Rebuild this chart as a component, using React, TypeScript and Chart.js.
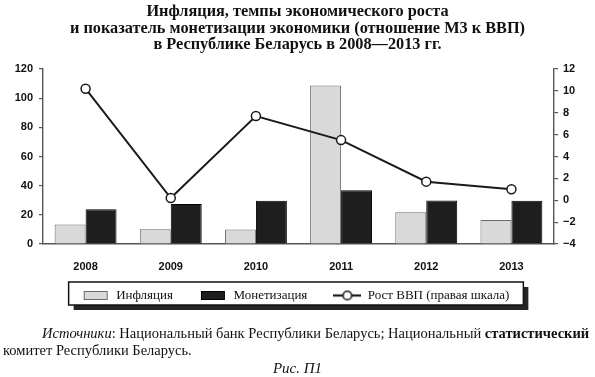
import React, { useEffect, useRef } from "react";
import { Chart, registerables } from "chart.js";

Chart.register(...registerables);

const years = ["2008", "2009", "2010", "2011", "2012", "2013"];
const inflation = [13.3, 10.1, 9.9, 108.7, 21.8, 16.5];
const monetization = [23.8, 27.4, 29.7, 36.8, 29.9, 29.7];
const gdpGrowth = [10.2, 0.2, 7.7, 5.5, 1.7, 1.0];
const leftTicks = [0, 20, 40, 60, 80, 100, 120];
const rightTicks = [-4, -2, 0, 2, 4, 6, 8, 10, 12];
const seriesNames = ["Инфляция", "Монетизация", "Рост ВВП (правая шкала)"];
const titleLines = [
  "Инфляция, темпы экономического роста",
  "и показатель монетизации экономики (отношение М3 к ВВП)",
  "в Республике Беларусь в 2008—2013 гг.",
];
const sourceLabel = "Источники";
const sourceLine1a = ": Национальный банк Республики Беларусь; Национальный ";
const sourceLine1b = "статистический";
const sourceLine2 = "комитет Республики Беларусь.";
const figureLabel = "Рис. П1";

const INFL_FILL = "#d9d9d9";
const INFL_BORDER = "#6a6a6a";
const MON_FILL = "#1e1e1e";
const LINE_COLOR = "#1a1a1a";
const AXIS_COLOR = "#555";
const TICK_FONT = "'Liberation Sans', Arial, sans-serif";
const SERIF = "'Liberation Serif', 'DejaVu Serif', serif";

function makeSwatch(fill: string, stroke: string, w: number, h: number) {
  const c = document.createElement("canvas");
  c.width = w + 2;
  c.height = h + 2;
  const ctx = c.getContext("2d")!;
  ctx.fillStyle = fill;
  ctx.fillRect(1, 1, w, h);
  ctx.strokeStyle = stroke;
  ctx.lineWidth = 1;
  ctx.strokeRect(1.5, 1.5, w - 1, h - 1);
  return c;
}

function makeLineIcon(w: number, h: number) {
  const c = document.createElement("canvas");
  c.width = w;
  c.height = h;
  const ctx = c.getContext("2d")!;
  ctx.strokeStyle = LINE_COLOR;
  ctx.lineWidth = 2.2;
  ctx.beginPath();
  ctx.moveTo(0, h / 2);
  ctx.lineTo(w, h / 2);
  ctx.stroke();
  ctx.beginPath();
  ctx.arc(w / 2, h / 2, 4.3, 0, Math.PI * 2);
  ctx.fillStyle = "#fff";
  ctx.fill();
  ctx.lineWidth = 1.6;
  ctx.stroke();
  return c;
}

const LEGEND_SHIFT_X = -2;
const LEGEND_SHIFT_Y = -11;

const legendBoxPlugin = {
  id: "legendBox",
  afterLayout(chart: any) {
    const lg = chart.legend;
    if (!lg) return;
    lg.left += LEGEND_SHIFT_X;
    lg.right += LEGEND_SHIFT_X;
    lg.top += LEGEND_SHIFT_Y;
    lg.bottom += LEGEND_SHIFT_Y;
  },
  beforeDraw(chart: any) {
    const lg = chart.legend;
    if (!lg || !lg.legendHitBoxes || !lg.legendHitBoxes.length) return;
    const hb = lg.legendHitBoxes;
    const left = Math.min(...hb.map((h: any) => h.left)) - 13;
    const right = Math.max(...hb.map((h: any) => h.left + h.width)) + 14;
    const cy = hb[0].top + hb[0].height / 2;
    const top = cy - 13.5;
    const bottom = cy + 9.5;
    const ctx = chart.ctx;
    ctx.save();
    ctx.fillStyle = "#262626";
    ctx.fillRect(left + 5, top + 5, right - left, bottom - top);
    ctx.fillStyle = "#fff";
    ctx.fillRect(left, top, right - left, bottom - top);
    ctx.strokeStyle = "#111";
    ctx.lineWidth = 1.5;
    ctx.strokeRect(left, top, right - left, bottom - top);
    ctx.restore();
  },
};

export default function App() {
  const canvasRef = useRef<HTMLCanvasElement | null>(null);

  useEffect(() => {
    const canvas = canvasRef.current;
    if (!canvas) return;
    const icons = [
      makeSwatch(INFL_FILL, INFL_BORDER, 24, 9),
      makeSwatch(MON_FILL, "#000", 24, 9),
      makeLineIcon(28, 12),
    ];
    const tickFont = { family: TICK_FONT, size: 11, weight: "bold" };
    const chart = new Chart(canvas, {
      type: "bar",
      data: {
        labels: years,
        datasets: [
          {
            type: "bar",
            label: seriesNames[0],
            data: inflation,
            backgroundColor: INFL_FILL,
            borderColor: INFL_BORDER,
            borderWidth: 1,
            yAxisID: "y",
            order: 1,
            barPercentage: 1,
            categoryPercentage: 0.727,
          },
          {
            type: "bar",
            label: seriesNames[1],
            data: monetization,
            backgroundColor: MON_FILL,
            borderColor: "#000",
            borderWidth: 1,
            yAxisID: "y",
            order: 1,
            barPercentage: 1,
            categoryPercentage: 0.727,
          },
          {
            type: "line",
            label: seriesNames[2],
            data: gdpGrowth,
            borderColor: LINE_COLOR,
            borderWidth: 2,
            pointRadius: 4.5,
            pointBackgroundColor: "#fff",
            pointBorderColor: LINE_COLOR,
            pointBorderWidth: 1.5,
            tension: 0,
            yAxisID: "y1",
            order: 0,
          },
        ] as any,
      },
      options: {
        responsive: false,
        animation: false,
        layout: { padding: { top: 69, left: 0, right: 0, bottom: 54 } },
        plugins: {
          title: { display: false },
          tooltip: { enabled: false },
          legend: {
            display: true,
            position: "bottom",
            labels: {
              usePointStyle: true,
              pointStyleWidth: 28,
              padding: 26,
              color: "#111",
              font: { family: SERIF, size: 13 },
              generateLabels: (ch: any) =>
                ch.data.datasets.map((ds: any, i: number) => ({
                  text: ds.label,
                  pointStyle: icons[i],
                  fillStyle: "#fff",
                  strokeStyle: "#000",
                  lineWidth: 0,
                  hidden: false,
                  datasetIndex: i,
                  fontColor: "#111",
                })),
            },
          },
        },
        scales: {
          x: {
            grid: { display: false, drawTicks: false },
            border: { display: true, color: AXIS_COLOR, width: 1.4 },
            ticks: { padding: 16, color: "#111", font: tickFont },
            afterFit: (s: any) => {
              s.height = 30;
            },
          },
          y: {
            position: "left",
            min: 0,
            max: 120,
            afterBuildTicks: (s: any) => {
              s.ticks = leftTicks.map((v) => ({ value: v }));
            },
            grid: { display: true, drawOnChartArea: false, drawTicks: true, tickLength: 4, color: AXIS_COLOR, lineWidth: 1.2 },
            border: { display: true, color: AXIS_COLOR, width: 1.4 },
            ticks: { padding: 6, color: "#111", font: tickFont },
            afterFit: (s: any) => {
              s.width = 43;
            },
          },
          y1: {
            position: "right",
            min: -4,
            max: 12,
            afterBuildTicks: (s: any) => {
              s.ticks = rightTicks.map((v) => ({ value: v }));
            },
            grid: { display: true, drawOnChartArea: false, drawTicks: true, tickLength: 4, color: AXIS_COLOR, lineWidth: 1.2 },
            border: { display: true, color: AXIS_COLOR, width: 1.4 },
            ticks: {
              padding: 5,
              color: "#111",
              font: tickFont,
              callback: (v: any) => (Number(v) < 0 ? "\u2212" + Math.abs(Number(v)) : String(v)),
            },
            afterFit: (s: any) => {
              s.width = 41;
            },
          },
        },
      } as any,
      plugins: [legendBoxPlugin],
    });
    return () => chart.destroy();
  }, []);

  return (
    <div
      style={{
        position: "fixed",
        left: 0,
        top: 0,
        width: 595,
        height: 377,
        background: "#fff",
        overflow: "hidden",
      }}
    >
      <canvas
        ref={canvasRef}
        width={595}
        height={377}
        style={{ position: "absolute", left: 0, top: 0, width: 595, height: 377 }}
      />
      <div
        style={{
          position: "absolute",
          left: 0,
          top: 3,
          width: 595,
          textAlign: "center",
          fontFamily: SERIF,
          fontWeight: "bold",
          fontSize: 16.3,
          lineHeight: "16.5px",
          color: "#111",
          whiteSpace: "nowrap",
        }}
      >
        {titleLines.map((t, i) => (
          <div key={i}>{t}</div>
        ))}
      </div>
      <div
        style={{
          position: "absolute",
          left: 42,
          top: 325,
          fontFamily: SERIF,
          fontSize: 14.5,
          lineHeight: "16px",
          color: "#111",
          whiteSpace: "nowrap",
        }}
      >
        <i>{sourceLabel}</i>
        {sourceLine1a}
        <b>{sourceLine1b}</b>
      </div>
      <div
        style={{
          position: "absolute",
          left: 3,
          top: 342,
          fontFamily: SERIF,
          fontSize: 14.5,
          lineHeight: "16px",
          color: "#111",
          whiteSpace: "nowrap",
        }}
      >
        {sourceLine2}
      </div>
      <div
        style={{
          position: "absolute",
          left: 0,
          top: 359.5,
          width: 595,
          textAlign: "center",
          fontFamily: SERIF,
          fontStyle: "italic",
          fontSize: 15,
          lineHeight: "17px",
          color: "#111",
          whiteSpace: "nowrap",
        }}
      >
        {figureLabel}
      </div>
    </div>
  );
}
